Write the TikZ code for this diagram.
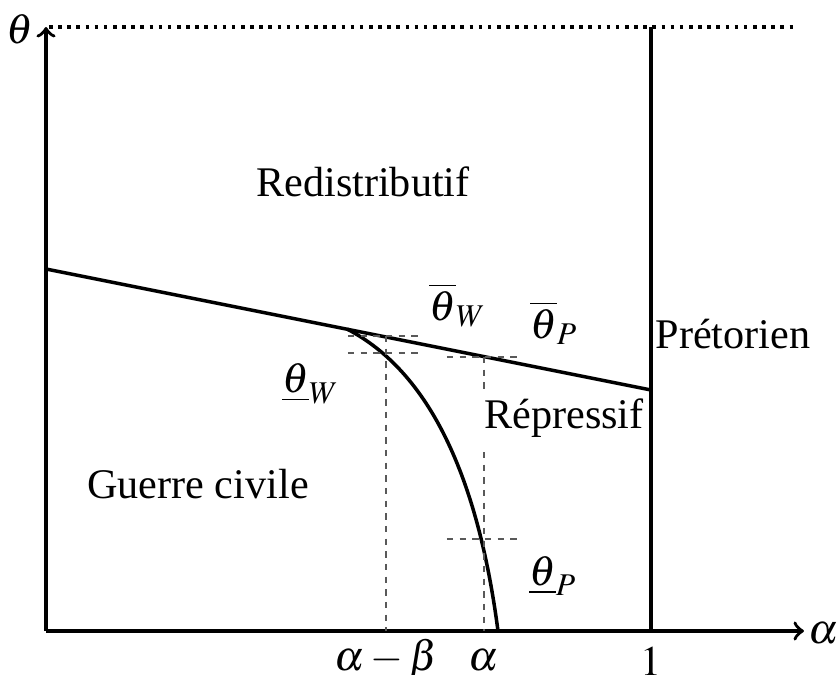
\documentclass[tikz,border=0pt]{standalone}
\usepackage{mathptmx}
\usepackage{fontspec}
\setmainfont{Liberation Serif}
\begin{document}
\begin{tikzpicture}[x=0.01cm,y=-0.01cm,
  font=\fontsize{12}{14}\selectfont,
  axis/.style={line width=1.0pt},
  guide/.style={line width=0.4pt, draw=black!65, dash pattern=on 1.8pt off 1.8pt},
  lbl/.style={inner sep=0pt}]
\useasboundingbox (0,0) rectangle (838,675);
% key points
\coordinate (O) at (46,631);
\coordinate (Ytip) at (46,27);
\coordinate (Xtip) at (804,631);
\coordinate (Dstart) at (49,27);
\coordinate (Dend) at (797,27);
\coordinate (One) at (651,631);
\coordinate (OneTop) at (651,27);
\coordinate (L0) at (46,269);
\coordinate (L1) at (651,390);
\coordinate (K) at (347,329);
\coordinate (Kend) at (498,631);
% axes and region borders
\draw[axis,->] (O) -- (Ytip);
\draw[axis,->] (O) -- (Xtip);
\draw[axis,dash pattern=on 1pt off 1.6pt] (Dstart) -- (Dend);
\draw[axis] (One) -- (OneTop);
\draw[axis] (L0) -- (L1);
\draw[axis] (K) .. controls (430,372) and (478,478) .. (Kend);
% guides
\coordinate (A1) at (386,336);
\coordinate (A0) at (386,631);
\draw[guide] (A1) -- (A0);
\coordinate (H1a) at (348,336); \coordinate (H1b) at (420,336);
\draw[guide] (H1a) -- (H1b);
\coordinate (H2a) at (348,353); \coordinate (H2b) at (420,353);
\draw[guide] (H2a) -- (H2b);
\coordinate (H3a) at (447,357); \coordinate (H3b) at (517,357);
\draw[guide] (H3a) -- (H3b);
\coordinate (B1) at (484,357); \coordinate (B2) at (484,393);
\draw[guide] (B1) -- (B2);
\coordinate (B3) at (484,452); \coordinate (B0) at (484,631);
\draw[guide] (B3) -- (B0);
\coordinate (H4a) at (447,539); \coordinate (H4b) at (518,539);
\draw[guide] (H4a) -- (H4b);
% labels
\node[lbl] (tlab) at (20,29) {$\theta$};
\node[lbl] (alab) at (824,633) {$\alpha$};
\node[lbl] (one) at (651,661) {$1$};
\node[lbl] (amb) at (386,660) {$\alpha-\beta$};
\node[lbl] (al) at (484,660) {$\alpha$};
\node[lbl] (tbw) at (458,305) {$\overline{\theta}_W$};
\node[lbl] (tbp) at (554,323) {$\overline{\theta}_P$};
\node[lbl] (tuw) at (311,384) {$\underline{\theta}_W$};
\node[lbl] (tup) at (553,576) {$\underline{\theta}_P$};
\node[lbl] (redis) at (363,182) {Redistributif};
\node[lbl] (preto) at (733,334) {Prétorien};
\node[lbl] (repre) at (564,418) {Répressif};
\node[lbl] (guerre) at (198,484) {Guerre civile};
\end{tikzpicture}
\end{document}
